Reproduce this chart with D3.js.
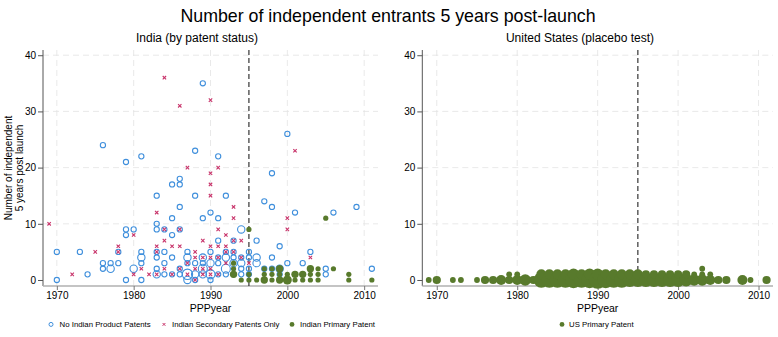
<!DOCTYPE html>
<html><head><meta charset="utf-8">
<script src="https://cdn.jsdelivr.net/npm/d3@7"></script>
<style>body{margin:0;background:#fff}svg text{font-family:"Liberation Sans",Arial,Helvetica,sans-serif;fill:#000}</style>
</head><body>
<svg id="c" width="778" height="337"></svg>
<script>
// ---------- DATA ----------
const xTicks = [1970, 1980, 1990, 2000, 2010];
const yTicks = [0, 10, 20, 30, 40];
const cutoffYear = 1995;
const mainTitle = "Number of independent entrants 5 years post-launch";
const panelTitles = ["India (by patent status)", "United States (placebo test)"];
const xTitle = "PPPyear";
const yTitleLines = ["Number of independent", "5 years post launch"];
const legendLeft = ["No Indian Product Patents", "Indian Secondary Patents Only", "Indian Primary Patent"];
const legendRight = ["US Primary Patent"];

// [year, entrants, weight]
const noIndianPatents = [
 [1970,5,1],[1970,0,1],[1973,5,1],[1974,1,1],
 [1976,24,1],[1976,3,1],[1976,2,1],
 [1977,3,1],[1977,2,2],
 [1978,5,1],[1978,3,1],
 [1979,21,1],[1979,9,1],[1979,8,1],[1979,0,1],
 [1980,9,1],[1980,2,2],
 [1981,22,1],[1981,5,1],[1981,4,2],[1981,3,1],[1981,0,1],
 [1983,15,1],[1983,10,1],[1983,9,1],[1983,5,1],[1983,4,1],[1983,2,1],[1983,1,2],
 [1984,9,1],[1984,5,1],[1984,3,1],[1984,1,1],
 [1985,17,1],[1985,11,1],[1985,8,1],[1985,4,1],[1985,1,1],
 [1986,18,1],[1986,17,1],[1986,13,1],[1986,9,1],[1986,2,1],[1986,1,1],
 [1987,5,1],[1987,4,2],[1987,3,1],[1987,1,4],[1987,0,2],
 [1988,23,1],[1988,15,1],[1988,3,1],[1988,1,2],[1988,0,1],
 [1989,35,1],[1989,11,1],[1989,4,2],[1989,3,1],[1989,2,3],[1989,1,2],
 [1990,12,1],[1990,5,1],[1990,3,2],[1990,1,3],[1990,0,1],
 [1991,22,1],[1991,11,1],[1991,7,1],[1991,4,1],[1991,3,1],[1991,1,1],
 [1992,15,1],[1992,5,1],[1992,4,2],[1992,2,3],[1992,1,1],
 [1993,7,1],[1993,5,1],[1993,4,1],[1993,3,2],[1993,1,1],
 [1994,9,2],[1994,4,1],[1994,3,2],[1994,2,1],[1994,1,1],
 [1995,5,1],[1995,4,1],[1995,2,1],[1995,1,1],
 [1996,7,1],[1996,4,2],[1996,3,2],
 [1997,14,1],[1997,2,1],
 [1998,19,1],[1998,13,1],[1998,4,1],[1998,2,1],
 [1999,6,1],[1999,2,2],[1999,1,1],
 [2000,26,1],[2000,3,1],
 [2001,12,1],[2002,3,1],[2003,5,1],[2005,2,1],[2005,1,1],
 [2006,12,1],[2009,13,1],[2011,2,1]
];
// [year, entrants]
const secondaryOnly = [
 [1969,10],[1972,1],[1975,5],
 [1978,6],[1978,5],
 [1980,8],[1980,1],
 [1981,2],[1982,1],
 [1983,12],[1983,6],[1983,5],[1983,1],
 [1984,36],[1984,9],[1984,7],[1984,2],
 [1985,6],[1985,1],
 [1986,31],[1986,9],[1986,6],[1986,2],
 [1987,20],[1987,3],[1987,1],
 [1988,5],[1988,4],[1988,2],[1988,0],
 [1989,7],[1989,4],[1989,2],[1989,1],
 [1990,32],[1990,19],[1990,17],[1990,15],[1990,6],[1990,4],[1990,2],[1990,1],
 [1991,20],[1991,9],[1991,6],[1991,4],[1991,1],
 [1992,8],[1992,6],[1992,5],[1992,3],
 [1993,13],[1993,11],[1993,7],[1993,5],[1993,1],
 [1994,7],[1994,4],
 [1995,3],
 [2000,11],[2000,9],
 [2001,23],
 [2003,4]
];
// [year, entrants, weight]
const indianPrimary = [
 [1993,3,1],[1993,2,1],[1993,1,2],
 [1994,0,1],
 [1995,9,1],[1995,1,1],[1995,0,1],
 [1996,0,1],
 [1997,2,1],[1997,1,1],[1997,0,2],
 [1998,2,1],[1998,1,1],[1998,0,1],
 [1999,2,2],[1999,1,1],[1999,0,2],
 [2000,1,1],[2000,0,3],
 [2001,1,2],[2001,0,1],
 [2002,1,2],[2002,0,1],
 [2003,2,2],[2003,1,1],[2003,0,1],
 [2004,2,1],[2004,1,1],[2004,0,1],
 [2005,11,1],
 [2006,2,1],
 [2008,1,1],[2008,0,1],
 [2011,0,1]
];
// [year, entrants, weight]
const usPrimary = [
 [1969,0,1],[1970,0,2],[1972,0,1],[1973,0,1],[1975,0,1],[1976,0,2],[1977,0,2],
 [1978,0,3],[1979,0,2],[1979,1,1],[1980,0,3],[1980,1,1],[1981,0,4],[1982,0,2],
 [1983,0,7],[1983,1,3],[1984,0,7],[1984,1,3],[1985,0,7],[1985,1,3],[1986,0,7],[1986,1,3],
 [1987,0,8],[1987,1,4],[1988,0,7],[1988,1,3],[1989,0,8],[1989,1,4],[1990,0,9],[1990,1,4],
 [1991,0,8],[1991,1,3],[1992,0,7],[1992,1,3],[1993,0,7],[1993,1,3],[1994,0,6],[1994,1,3],
 [1995,0,6],[1995,1,3],[1996,0,6],[1996,1,2],[1997,0,6],[1997,1,2],[1998,0,6],[1998,1,2],
 [1999,0,6],[1999,1,2],[2000,0,6],[2000,1,2],[2001,0,5],[2001,1,2],[2002,0,4],[2002,1,1],
 [2003,0,4],[2003,1,1],[2003,2,1],[2004,0,3],[2004,1,1],[2005,0,2],[2006,0,2],
 [2008,0,3],[2009,0,1],[2011,0,2]
];

// ---------- STYLE / LAYOUT ----------
const BLUE = "#3f8fdc", RED = "#c8336a", GREEN = "#587a2c";
const svg = d3.select("#c");
const xDomain = [1968.2, 2011.8], yDomain = [-1.07, 40.93];
const yRange = [286, 50];
const rScale = w => 2.6 * Math.sqrt(w);
const rScaleUS = w => 2.9 * Math.sqrt(w);
const FONT = '"Liberation Sans",Arial,sans-serif';

svg.append("text").attr("x", 388).attr("y", 22).attr("text-anchor", "middle")
  .attr("font-size", 17.8).text(mainTitle);

function panel(x0, x1, titleX, titleText) {
  const x = d3.scaleLinear().domain(xDomain).range([x0, x1]);
  const y = d3.scaleLinear().domain(yDomain).range(yRange);
  const g = svg.append("g");
  g.selectAll(".gh").data(yTicks.filter(d => d > 0)).join("line")
    .attr("x1", x0).attr("x2", x1).attr("y1", d => y(d)).attr("y2", d => y(d))
    .attr("stroke", "#e3e3e3").attr("stroke-width", 0.8).attr("stroke-dasharray", "6,4");
  g.selectAll(".gv").data(xTicks).join("line")
    .attr("x1", d => x(d)).attr("x2", d => x(d)).attr("y1", yRange[1]).attr("y2", yRange[0])
    .attr("stroke", "#e3e3e3").attr("stroke-width", 0.8).attr("stroke-dasharray", "6,4");
  const ya = g.append("g").attr("transform", `translate(${x0},0)`)
    .call(d3.axisLeft(y).tickValues(yTicks).tickSize(5).tickPadding(2).tickFormat(d3.format("d")));
  ya.select(".domain").attr("d", `M0,${yRange[1]}V${yRange[0]}`).attr("stroke", "#555");
  ya.selectAll(".tick line").attr("stroke", "#555");
  ya.selectAll("text").attr("font-size", 10).attr("font-family", FONT);
  const xa = g.append("g").attr("transform", `translate(0,${yRange[0]})`)
    .call(d3.axisBottom(x).tickValues(xTicks).tickSize(4).tickPadding(2).tickFormat(d3.format("d")));
  xa.select(".domain").attr("d", `M${x0},0H${x1}`).attr("stroke", "#b0b0b0").attr("stroke-width", 1.6);
  xa.selectAll(".tick line").attr("stroke", "#777");
  xa.selectAll("text").attr("font-size", 10).attr("font-family", FONT);
  g.append("line").attr("x1", x(cutoffYear)).attr("x2", x(cutoffYear))
    .attr("y1", yRange[1]).attr("y2", yRange[0])
    .attr("stroke", "#222").attr("stroke-width", 1.1).attr("stroke-dasharray", "5,3");
  svg.append("text").attr("x", titleX).attr("y", 42).attr("text-anchor", "middle")
    .attr("font-size", 12).text(titleText);
  svg.append("text").attr("x", (x0 + x1) / 2).attr("y", 312).attr("text-anchor", "middle")
    .attr("font-size", 10.5).text(xTitle);
  return {g, x, y};
}

const L = panel(43, 378, 197, panelTitles[0]);
const R = panel(422.3, 773, 580, panelTitles[1]);

yTitleLines.forEach((t, i) => {
  svg.append("text").attr("transform", `translate(${12 + i * 11},168) rotate(-90)`)
    .attr("text-anchor", "middle").attr("font-size", 10).text(t);
});

L.g.append("g").selectAll("circle").data(noIndianPatents).join("circle")
  .attr("cx", d => L.x(d[0])).attr("cy", d => L.y(d[1])).attr("r", d => rScale(d[2]))
  .attr("fill", "none").attr("stroke", BLUE).attr("stroke-width", 1.1);
const xs = 1.7;
L.g.append("g").selectAll("path").data(secondaryOnly).join("path")
  .attr("d", d => { const cx = L.x(d[0]), cy = L.y(d[1]);
    return `M${cx-xs},${cy-xs}L${cx+xs},${cy+xs}M${cx-xs},${cy+xs}L${cx+xs},${cy-xs}`; })
  .attr("stroke", RED).attr("stroke-width", 1.1).attr("fill", "none");
L.g.append("g").selectAll("circle").data(indianPrimary).join("circle")
  .attr("cx", d => L.x(d[0])).attr("cy", d => L.y(d[1])).attr("r", d => rScale(d[2]))
  .attr("fill", GREEN);

R.g.append("g").selectAll("circle").data(usPrimary).join("circle")
  .attr("cx", d => R.x(d[0])).attr("cy", d => R.y(d[1])).attr("r", d => rScaleUS(d[2]))
  .attr("fill", GREEN);

const ly = 327, lfs = 7.8;
const leg = svg.append("g");
leg.append("circle").attr("cx", 51).attr("cy", ly - 2.6).attr("r", 2).attr("fill", "none").attr("stroke", BLUE).attr("stroke-width", 1);
leg.append("text").attr("x", 59.6).attr("y", ly).attr("font-size", lfs).text(legendLeft[0]);
leg.append("path").attr("d", `M${164-1.4},${ly-4}L${164+1.4},${ly-1.2}M${164-1.4},${ly-1.2}L${164+1.4},${ly-4}`)
  .attr("stroke", RED).attr("stroke-width", 1);
leg.append("text").attr("x", 172).attr("y", ly).attr("font-size", lfs).text(legendLeft[1]);
leg.append("circle").attr("cx", 292).attr("cy", ly - 2.6).attr("r", 2.4).attr("fill", GREEN);
leg.append("text").attr("x", 300).attr("y", ly).attr("font-size", lfs).text(legendLeft[2]);
leg.append("circle").attr("cx", 562).attr("cy", ly - 2.6).attr("r", 2.4).attr("fill", GREEN);
leg.append("text").attr("x", 569).attr("y", ly).attr("font-size", lfs).text(legendRight[0]);
</script>
</body></html>
